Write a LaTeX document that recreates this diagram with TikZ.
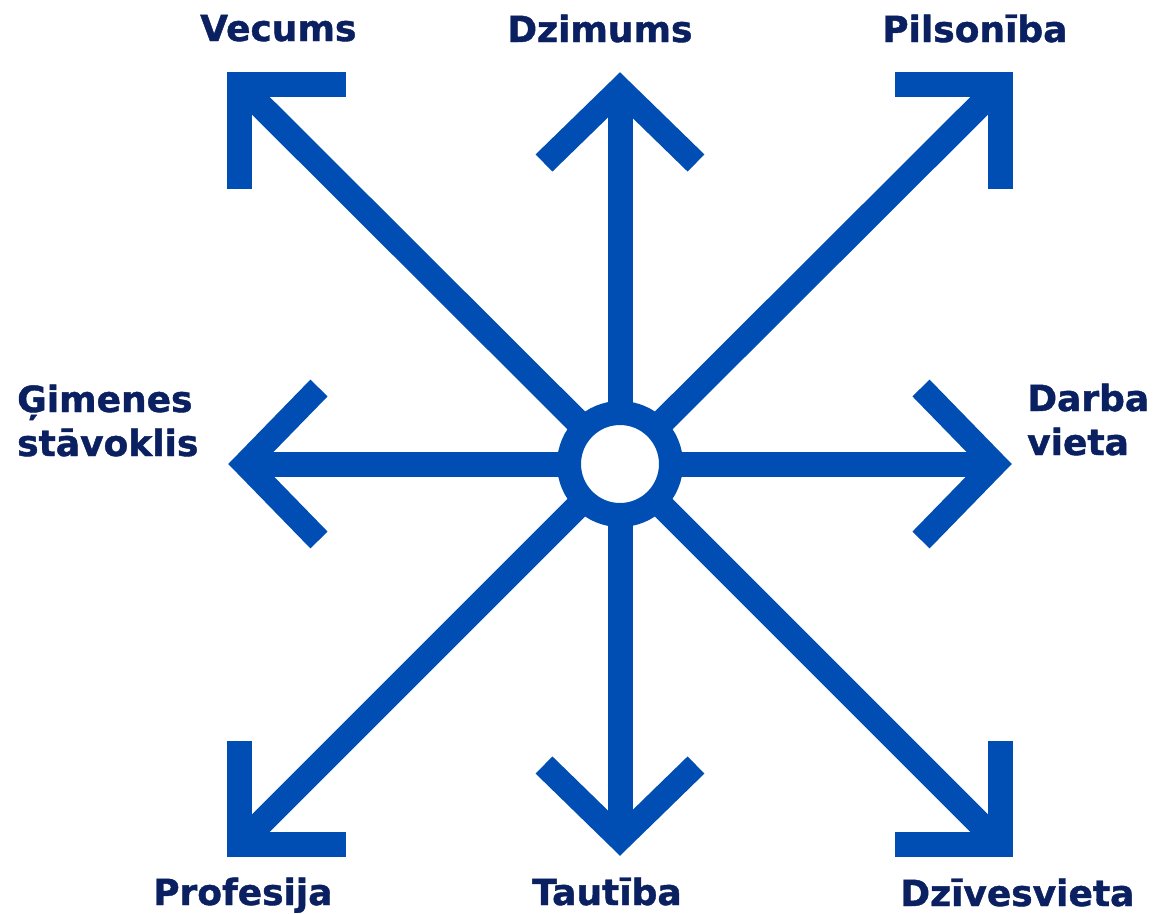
\documentclass[tikz,border=0pt]{standalone}
\usepackage{fontspec}
\setmainfont{DejaVu Sans}[BoldFeatures={FakeBold=1.2}]
\usetikzlibrary{calc}
\definecolor{arrowblue}{RGB}{0,78,180}
\definecolor{labelnavy}{RGB}{10,32,96}
\tikzset{
  shaft/.style={draw=arrowblue, line width=25pt, line cap=butt},
  headline/.style={draw=arrowblue, line width=24pt, line cap=butt, line join=miter},
  cornerhead/.style={draw=arrowblue, line width=25pt, line cap=butt, line join=miter},
  hub/.style={circle, draw=arrowblue, fill=white, line width=24pt, inner sep=0pt, minimum size=102pt},
  lbl/.style={anchor=base west, inner sep=0pt, text=labelnavy, font=\fontsize{36}{44}\selectfont\bfseries, align=left},
}
\begin{document}
\begin{tikzpicture}[x=1pt,y=-1pt]
\useasboundingbox (0,0) rectangle (1153,913);
\coordinate (c) at (620,464);
% chevron tips (centerline)
\coordinate (tN) at (620,89);
\coordinate (tS) at (620,839);
\coordinate (tW) at (245,464);
\coordinate (tE) at (995,464);
% corner heads (centerline)
\coordinate (tNW) at (239.5,84.5);
\coordinate (tNE) at (1000.5,84.5);
\coordinate (tSW) at (239.5,844.5);
\coordinate (tSE) at (1000.5,844.5);
% shafts
\foreach \t in {tN,tS,tW,tE,tNW,tNE,tSW,tSE}
  \draw[shaft] (c) -- (\t);
% chevron heads
\draw[headline] ($(tN)+(-76,74)$) -- (tN) -- ($(tN)+(76,74)$);
\draw[headline] ($(tS)+(-76,-74)$) -- (tS) -- ($(tS)+(76,-74)$);
\draw[headline] ($(tW)+(74,-76)$) -- (tW) -- ($(tW)+(74,76)$);
\draw[headline] ($(tE)+(-74,-76)$) -- (tE) -- ($(tE)+(-74,76)$);
% corner heads
\draw[cornerhead] ($(tNW)+(0,104)$) -- (tNW) -- ($(tNW)+(106,0)$);
\draw[cornerhead] ($(tNE)+(0,104)$) -- (tNE) -- ($(tNE)+(-106,0)$);
\draw[cornerhead] ($(tSW)+(0,-104)$) -- (tSW) -- ($(tSW)+(106,0)$);
\draw[cornerhead] ($(tSE)+(0,-104)$) -- (tSE) -- ($(tSE)+(-106,0)$);
% hub
\node[hub] (hub) at (c) {};
% labels
\node[lbl] (vecums) at (200,41) {Vecums};
\node[lbl] (dzimums) at (507,42) {Dzimums};
\node[lbl] (pilsoniba) at (882,42) {Pilsonība};
\node[lbl] (gimenes) at (17,456) {Ģimenes\\stāvoklis};
\node[lbl] (darba) at (1027,455) {Darba\\vieta};
\node[lbl] (profesija) at (153,905) {Profesija};
\node[lbl] (tautiba) at (532,905) {Tautība};
\node[lbl] (dzivesvieta) at (900,906) {Dzīvesvieta};
\end{tikzpicture}
\end{document}
